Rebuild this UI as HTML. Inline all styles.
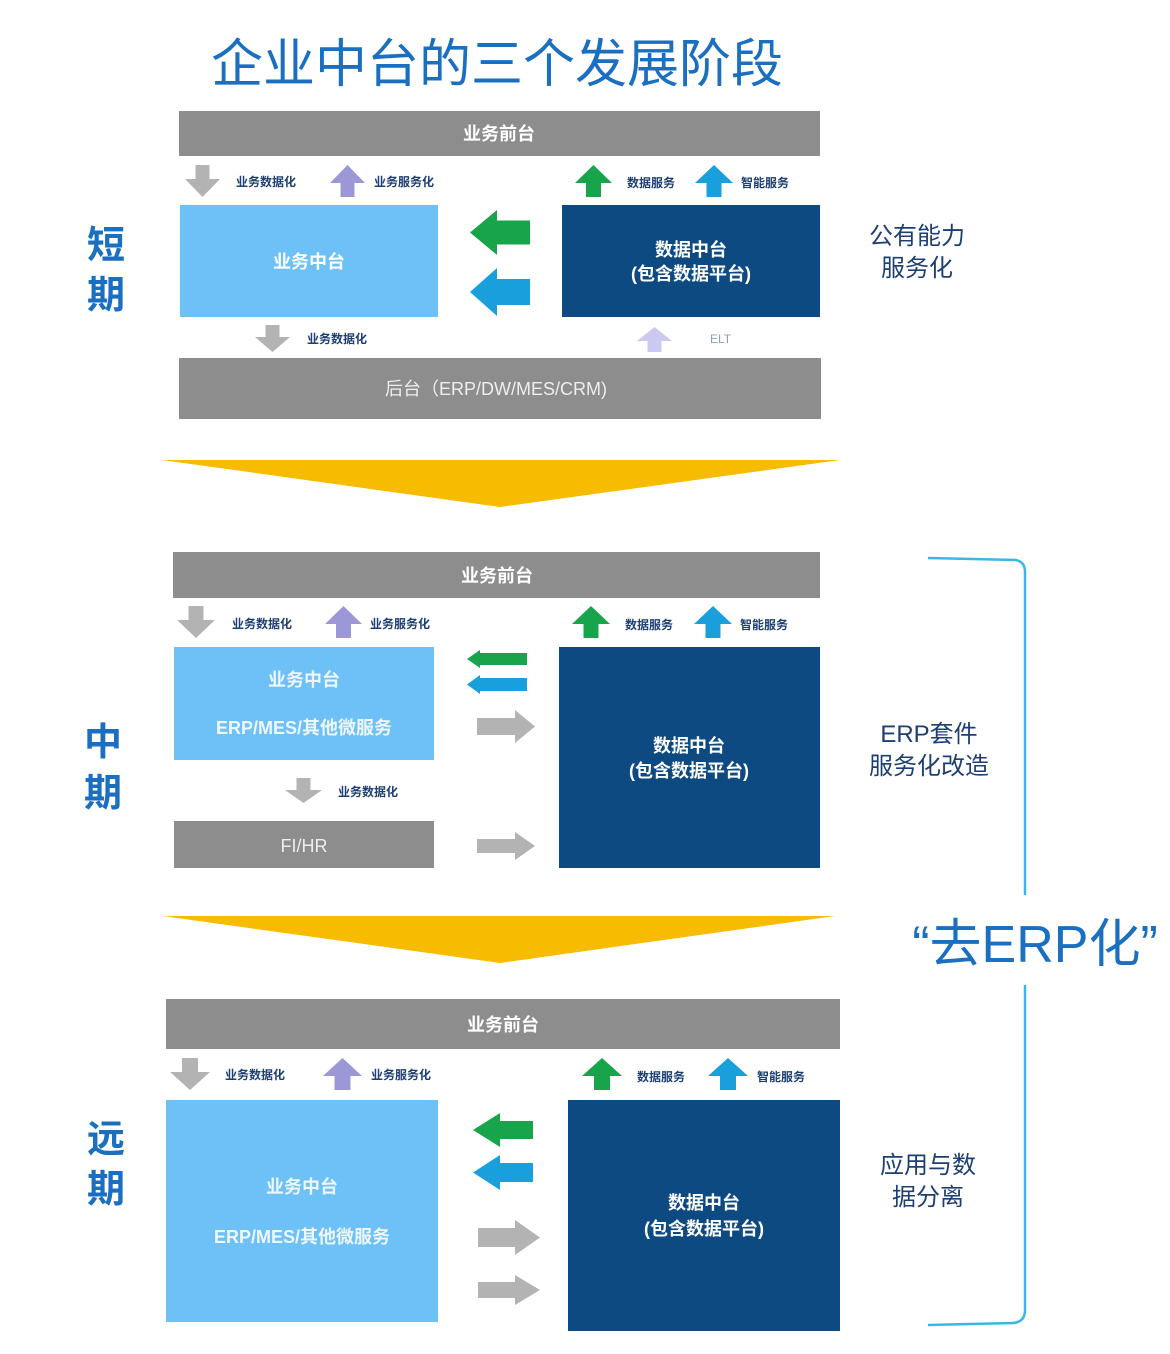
<!DOCTYPE html>
<html><head><meta charset="utf-8"><style>
html,body{margin:0;padding:0;background:#fff;}
svg{display:block;}
text{font-family:"Liberation Sans","Noto Sans CJK SC",sans-serif;}
</style></head><body>
<svg width="1170" height="1354" viewBox="0 0 1170 1354" xmlns="http://www.w3.org/2000/svg">
<rect width="1170" height="1354" fill="#fff"/>
<text x="497" y="82" font-size="52" fill="#1a6fc0" text-anchor="middle">企业中台的三个发展阶段</text>

<!-- Section 1 -->
<text x="106" y="258" font-size="38" fill="#1a6fc0" text-anchor="middle" font-weight="bold">短</text>
<text x="106" y="308" font-size="38" fill="#1a6fc0" text-anchor="middle" font-weight="bold">期</text>
<rect x="179" y="111" width="641" height="45" fill="#8d8d8d"/>
<text x="499" y="140" font-size="18" fill="#fff" text-anchor="middle" font-weight="bold">业务前台</text>
<polygon points="202.5,197 220,179 209.5,179 209.5,165 195.5,165 195.5,179 185,179" fill="#b3b3b3"/>
<text x="236" y="186" font-size="12" fill="#1d3f73" font-weight="bold">业务数据化</text>
<polygon points="347.5,165 365,183 354.5,183 354.5,197 340.5,197 340.5,183 330,183" fill="#9c98d8"/>
<text x="374" y="186" font-size="12" fill="#1d3f73" font-weight="bold">业务服务化</text>
<polygon points="593.5,165 612,183 601,183 601,197 586,197 586,183 575,183" fill="#17a44a"/>
<text x="627" y="187" font-size="12" fill="#1d3f73" font-weight="bold">数据服务</text>
<polygon points="714,165 733,183 721.5,183 721.5,197 706.5,197 706.5,183 695,183" fill="#19a0dc"/>
<text x="741" y="187" font-size="12" fill="#1d3f73" font-weight="bold">智能服务</text>
<rect x="180" y="205" width="258" height="112" fill="#6ec1f6"/>
<text x="309" y="268" font-size="18" fill="#fff" text-anchor="middle" font-weight="bold">业务中台</text>
<polygon points="470,232.5 497,210 497,220.5 530,220.5 530,244.5 497,244.5 497,255" fill="#17a44a"/>
<polygon points="470,292 497,268 497,279 530,279 530,305 497,305 497,316" fill="#19a0dc"/>
<rect x="562" y="205" width="258" height="112" fill="#0e4a82"/>
<text x="691" y="256" font-size="18" fill="#fff" text-anchor="middle" font-weight="bold">数据中台</text>
<text x="691" y="280" font-size="18" fill="#fff" text-anchor="middle" font-weight="bold">(包含数据平台)</text>
<text x="917" y="244" font-size="24" fill="#1d3f73" text-anchor="middle">公有能力</text>
<text x="917" y="276" font-size="24" fill="#1d3f73" text-anchor="middle">服务化</text>
<polygon points="272.5,352 290,337 279.5,337 279.5,325 265.5,325 265.5,337 255,337" fill="#b3b3b3"/>
<text x="307" y="343" font-size="12" fill="#1d3f73" font-weight="bold">业务数据化</text>
<polygon points="654.5,327 672,341 661.5,341 661.5,352 647.5,352 647.5,341 637,341" fill="#cbc9f0"/>
<text x="710" y="343" font-size="12" fill="#8aa0b8">ELT</text>
<rect x="179" y="358" width="642" height="61" fill="#8d8d8d"/>
<text x="496" y="395" font-size="18" fill="#eee" text-anchor="middle">后台（ERP/DW/MES/CRM)</text>
<polygon points="162,460 840,460 500,507" fill="#f7bb00"/>

<!-- Section 2 -->
<text x="103" y="755" font-size="38" fill="#1a6fc0" text-anchor="middle" font-weight="bold">中</text>
<text x="103" y="806" font-size="38" fill="#1a6fc0" text-anchor="middle" font-weight="bold">期</text>
<rect x="173" y="552" width="647" height="46" fill="#8d8d8d"/>
<text x="497" y="582" font-size="18" fill="#fff" text-anchor="middle" font-weight="bold">业务前台</text>
<polygon points="196,638 215,620 203.5,620 203.5,606 188.5,606 188.5,620 177,620" fill="#b3b3b3"/>
<text x="232" y="628" font-size="12" fill="#1d3f73" font-weight="bold">业务数据化</text>
<polygon points="343.5,606 362,624 351,624 351,638 336,638 336,624 325,624" fill="#9c98d8"/>
<text x="370" y="628" font-size="12" fill="#1d3f73" font-weight="bold">业务服务化</text>
<polygon points="591,606 610,624 598.5,624 598.5,638 583.5,638 583.5,624 572,624" fill="#17a44a"/>
<text x="625" y="629" font-size="12" fill="#1d3f73" font-weight="bold">数据服务</text>
<polygon points="713,606 732,624 720.5,624 720.5,638 705.5,638 705.5,624 694,624" fill="#19a0dc"/>
<text x="740" y="629" font-size="12" fill="#1d3f73" font-weight="bold">智能服务</text>
<rect x="174" y="647" width="260" height="113" fill="#6ec1f6"/>
<text x="304" y="686" font-size="18" fill="#eef7ff" text-anchor="middle" font-weight="bold">业务中台</text>
<text x="304" y="734" font-size="18" fill="#eef7ff" text-anchor="middle" font-weight="bold">ERP/MES/其他微服务</text>
<polygon points="467,659 480,650 480,653 527,653 527,665 480,665 480,668" fill="#17a44a"/>
<polygon points="467,684.5 480,675 480,678 527,678 527,691 480,691 480,694" fill="#19a0dc"/>
<polygon points="535,726.5 515,710 515,718 477,718 477,735 515,735 515,743" fill="#b3b3b3"/>
<rect x="559" y="647" width="261" height="221" fill="#0e4a82"/>
<text x="689" y="752" font-size="18" fill="#fff" text-anchor="middle" font-weight="bold">数据中台</text>
<text x="689" y="777" font-size="18" fill="#fff" text-anchor="middle" font-weight="bold">(包含数据平台)</text>
<polygon points="303.5,803 322,790 310.5,790 310.5,778 296.5,778 296.5,790 285,790" fill="#b3b3b3"/>
<text x="338" y="796" font-size="12" fill="#1d3f73" font-weight="bold">业务数据化</text>
<rect x="174" y="821" width="260" height="47" fill="#8d8d8d"/>
<text x="304" y="852" font-size="18" fill="#eee" text-anchor="middle">FI/HR</text>
<polygon points="535,846 515,832 515,839 477,839 477,853 515,853 515,860" fill="#b3b3b3"/>
<text x="929" y="742" font-size="24" fill="#1d3f73" text-anchor="middle">ERP套件</text>
<text x="929" y="774" font-size="24" fill="#1d3f73" text-anchor="middle">服务化改造</text>
<polygon points="163,916 835,916 500,963" fill="#f7bb00"/>

<!-- Bracket -->
<path d="M928,558 L1016,560 Q1025,562 1025,572 L1025,895 M1025,985 L1025,1310 Q1025,1322 1013,1323 L928,1325" fill="none" stroke="#3ab7e6" stroke-width="2.5"/>
<text x="1035" y="962" font-size="52" fill="#1a6fc0" text-anchor="middle">“去ERP化”</text>

<!-- Section 3 -->
<text x="106" y="1152" font-size="38" fill="#1a6fc0" text-anchor="middle" font-weight="bold">远</text>
<text x="106" y="1202" font-size="38" fill="#1a6fc0" text-anchor="middle" font-weight="bold">期</text>
<rect x="166" y="999" width="674" height="50" fill="#8d8d8d"/>
<text x="503" y="1031" font-size="18" fill="#fff" text-anchor="middle" font-weight="bold">业务前台</text>
<polygon points="190,1090 210,1072 198,1072 198,1058 182,1058 182,1072 170,1072" fill="#b3b3b3"/>
<text x="225" y="1079" font-size="12" fill="#1d3f73" font-weight="bold">业务数据化</text>
<polygon points="342.5,1058 362,1076 350.5,1076 350.5,1090 334.5,1090 334.5,1076 323,1076" fill="#9c98d8"/>
<text x="371" y="1079" font-size="12" fill="#1d3f73" font-weight="bold">业务服务化</text>
<polygon points="602,1058 622,1076 610,1076 610,1090 594,1090 594,1076 582,1076" fill="#17a44a"/>
<text x="637" y="1081" font-size="12" fill="#1d3f73" font-weight="bold">数据服务</text>
<polygon points="728,1058 748,1076 736,1076 736,1090 720,1090 720,1076 708,1076" fill="#19a0dc"/>
<text x="757" y="1081" font-size="12" fill="#1d3f73" font-weight="bold">智能服务</text>
<rect x="166" y="1100" width="272" height="222" fill="#6ec1f6"/>
<text x="302" y="1193" font-size="18" fill="#eef7ff" text-anchor="middle" font-weight="bold">业务中台</text>
<text x="302" y="1243" font-size="18" fill="#eef7ff" text-anchor="middle" font-weight="bold">ERP/MES/其他微服务</text>
<polygon points="473,1130 500,1113 500,1121 533,1121 533,1139 500,1139 500,1147" fill="#17a44a"/>
<polygon points="473,1172.5 500,1155 500,1163 533,1163 533,1182 500,1182 500,1190" fill="#19a0dc"/>
<polygon points="540,1237.5 515,1220 515,1228 478,1228 478,1247 515,1247 515,1255" fill="#b3b3b3"/>
<polygon points="540,1290 515,1275 515,1282 478,1282 478,1298 515,1298 515,1305" fill="#b3b3b3"/>
<rect x="568" y="1100" width="272" height="231" fill="#0e4a82"/>
<text x="704" y="1209" font-size="18" fill="#fff" text-anchor="middle" font-weight="bold">数据中台</text>
<text x="704" y="1235" font-size="18" fill="#fff" text-anchor="middle" font-weight="bold">(包含数据平台)</text>
<text x="928" y="1173" font-size="24" fill="#1d3f73" text-anchor="middle">应用与数</text>
<text x="928" y="1205" font-size="24" fill="#1d3f73" text-anchor="middle">据分离</text>
</svg>
</body></html>
